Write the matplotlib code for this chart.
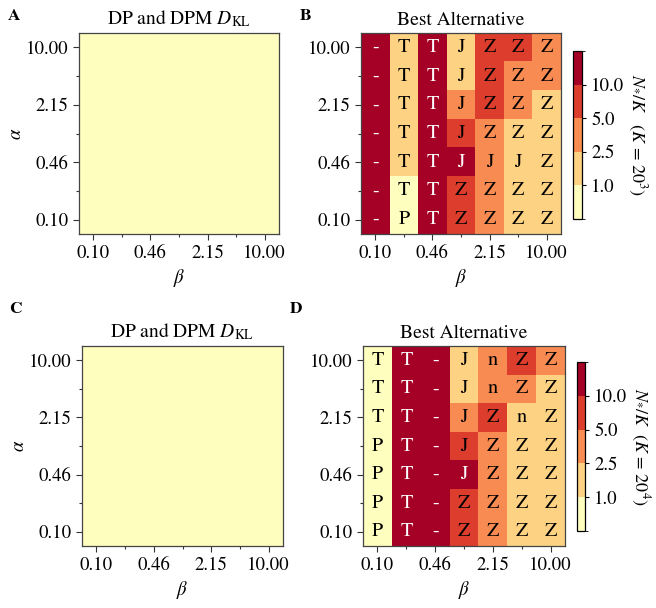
"""
Best-alternative heatmaps over (alpha, beta) for K = 20^3 and K = 20^4
"""
import numpy as np
import matplotlib
matplotlib.use("Agg")
import matplotlib.pyplot as plt
from matplotlib.colors import ListedColormap, BoundaryNorm

plt.rcParams["font.family"] = ["STIXGeneral", "DejaVu Serif"]
plt.rcParams["mathtext.fontset"] = "stix"
plt.rcParams["font.size"] = 13.5

# grid of hyperparameters (log spaced, 7 points)
beta_ticks = ["0.10", "0.46", "2.15", "10.00"]
alpha_ticks = ["10.00", "2.15", "0.46", "0.10"]   # top -> bottom

# D_KL between DP and DPM: zero everywhere
kl_A = np.zeros((7, 7))
kl_C = np.zeros((7, 7))

# N*/K, rows alpha = 10 (top) ... 0.1 (bottom), cols beta = 0.1 ... 10
ratio_B = [
    [15, 1.8, 15, 1.8, 7.0, 7.0, 3.5],
    [15, 1.8, 15, 1.8, 7.0, 3.5, 3.5],
    [15, 1.8, 15, 3.5, 7.0, 3.5, 1.8],
    [15, 1.8, 15, 7.0, 3.5, 1.8, 1.8],
    [15, 1.8, 15, 15, 3.5, 1.8, 1.8],
    [15, 0.6, 15, 7.0, 3.5, 1.8, 1.8],
    [15, 0.6, 15, 7.0, 3.5, 1.8, 1.8],
]
best_B = [
    ["-", "T", "T", "J", "Z", "Z", "Z"],
    ["-", "T", "T", "J", "Z", "Z", "Z"],
    ["-", "T", "T", "J", "Z", "Z", "Z"],
    ["-", "T", "T", "J", "Z", "Z", "Z"],
    ["-", "T", "T", "J", "J", "J", "Z"],
    ["-", "T", "T", "Z", "Z", "Z", "Z"],
    ["-", "P", "T", "Z", "Z", "Z", "Z"],
]
ratio_D = [
    [0.6, 15, 15, 1.8, 3.5, 7.0, 3.5],
    [0.6, 15, 15, 1.8, 3.5, 3.5, 1.8],
    [0.6, 15, 15, 3.5, 7.0, 1.8, 1.8],
    [0.6, 15, 15, 7.0, 3.5, 1.8, 1.8],
    [0.6, 15, 15, 15, 3.5, 1.8, 1.8],
    [0.6, 15, 15, 7.0, 3.5, 1.8, 1.8],
    [0.6, 15, 15, 7.0, 3.5, 1.8, 1.8],
]
best_D = [
    ["T", "T", "-", "J", "n", "Z", "Z"],
    ["T", "T", "-", "J", "n", "Z", "Z"],
    ["T", "T", "-", "J", "Z", "n", "Z"],
    ["P", "T", "-", "J", "Z", "Z", "Z"],
    ["P", "T", "-", "J", "Z", "Z", "Z"],
    ["P", "T", "-", "Z", "Z", "Z", "Z"],
    ["P", "T", "-", "Z", "Z", "Z", "Z"],
]

bounds = [0.0, 1.0, 2.5, 5.0, 10.0, 20.0]
cmap = ListedColormap(plt.cm.RdYlBu_r(np.linspace(0.5, 1.0, 5)))
norm = BoundaryNorm(bounds, cmap.N)

W, H = 656, 608
fig = plt.figure(figsize=(W / 100, H / 100), dpi=100)


def box(x0, y0, x1, y1):
    return [x0 / W, 1 - y1 / H, (x1 - x0) / W, (y1 - y0) / H]


def style(ax, ylabel=False):
    ax.set_xticks([0, 2, 4, 6])
    ax.set_xticklabels(beta_ticks)
    ax.set_xticks([1, 3, 5], minor=True)
    ax.set_yticks([0, 2, 4, 6])
    ax.set_yticklabels(alpha_ticks)
    ax.set_yticks([1, 3, 5], minor=True)
    ax.tick_params(which="major", length=4, width=0.8, color="#333333")
    ax.tick_params(which="minor", length=2.5, width=0.8, color="#333333")
    for s in ax.spines.values():
        s.set_color("#444444")
        s.set_linewidth(0.9)
    ax.set_xlabel(r"$\beta$", labelpad=4)
    if ylabel:
        ax.set_ylabel(r"$\alpha$", labelpad=1)


def kl_panel(rect, data):
    ax = fig.add_axes(rect)
    ax.imshow(data, cmap=cmap, norm=norm, aspect="auto", origin="upper")
    ax.set_title(r"DP and DPM $D_{\mathrm{KL}}$", pad=6, fontsize=14)
    style(ax, ylabel=True)
    return ax


def best_panel(rect, cbrect, ratio, labels, cblabel):
    ax = fig.add_axes(rect)
    vals = np.array(ratio, dtype=float)
    im = ax.imshow(vals, cmap=cmap, norm=norm, aspect="auto", origin="upper")
    for i in range(vals.shape[0]):
        for j in range(vals.shape[1]):
            c = "white" if vals[i, j] >= 10 else "black"
            ax.text(j, i, labels[i][j], ha="center", va="center", color=c, fontsize=14.5)
    ax.set_title("Best Alternative", pad=6, fontsize=14)
    style(ax)
    cax = fig.add_axes(cbrect)
    cb = fig.colorbar(im, cax=cax, ticks=[1.0, 2.5, 5.0, 10.0])
    cb.ax.set_yticklabels(["1.0", "2.5", "5.0", "10.0"])
    cb.ax.tick_params(length=3, width=0.8)
    cb.outline.set_linewidth(0.9)
    cb.set_label(cblabel, rotation=270, labelpad=17, fontsize=13)
    return ax


kl_panel(box(79, 33, 279, 234), kl_A)
best_panel(box(361, 33, 561, 234), box(573, 51, 582, 219), ratio_B, best_B,
           r"$N_{*}/K\ \ \ (K\,=\,20^3)$")
kl_panel(box(82, 346, 283, 546), kl_C)
best_panel(box(363, 346, 565, 546), box(577, 362, 585, 531), ratio_D, best_D,
           r"$N_{*}/K\ \ (K\,=\,20^4)$")

for lab, x, y in [("A", 8, 9), ("B", 300, 9), ("C", 9, 302), ("D", 290, 302)]:
    fig.text(x / W, 1 - y / H, lab, fontsize=12.5, fontweight="bold", va="top", ha="left")

fig.savefig("out.png", dpi=100)
